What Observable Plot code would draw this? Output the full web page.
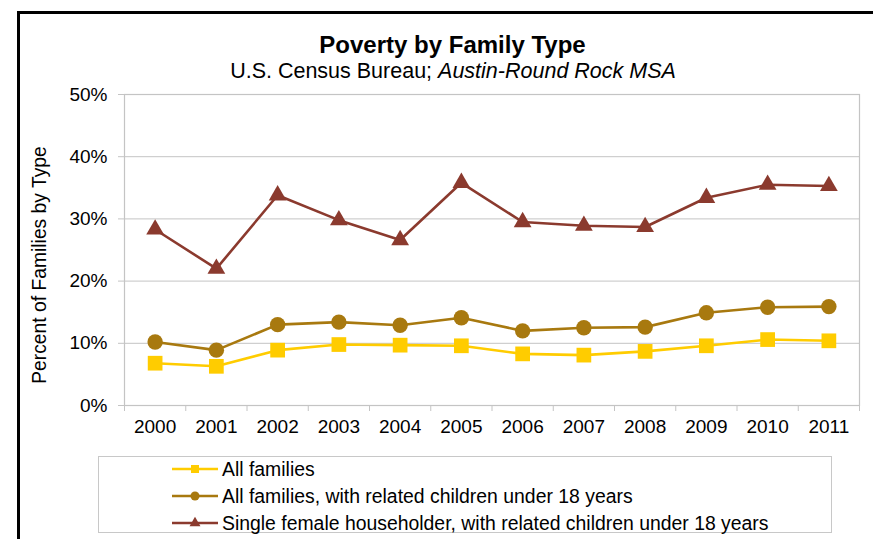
<!DOCTYPE html>
<html>
<head>
<meta charset="utf-8">
<script src="https://cdn.jsdelivr.net/npm/d3@7"></script>
<script src="https://cdn.jsdelivr.net/npm/@observablehq/plot@0.6"></script>
<style>
  html, body { margin: 0; padding: 0; background: #fff; }
  body { font-family: "Liberation Sans", Arial, sans-serif; }
  #wrap { position: relative; width: 873px; height: 539px; overflow: hidden; background: #fff; }
  #frame { position: absolute; left: 17px; top: 11px; width: 900px; height: 600px; border-left: 3px solid #000; border-top: 3px solid #000; }
  #chart { position: absolute; left: 0; top: 0; }
  #title { position: absolute; left: 0; width: 905px; top: 31px; text-align: center; font-weight: bold; font-size: 24px; color: #000; }
  #subtitle { position: absolute; left: 0; width: 906px; top: 59px; text-align: center; font-size: 21.5px; color: #000; }
  #ylabel { position: absolute; left: 40px; top: 265px; transform: translate(-50%, -50%) rotate(-90deg); white-space: nowrap; font-size: 19.3px; color: #000; }
  #legend { position: absolute; left: 98px; top: 456px; width: 734px; height: 77px; border: 1px solid #c8c8c8; box-sizing: border-box; }
  .row { position: absolute; left: 73px; height: 24px; display: flex; align-items: center; font-size: 19.4px; color: #000; white-space: nowrap; }
  .row svg { margin-right: 4px; }
</style>
</head>
<body>
<div id="wrap">
  <div id="chart"></div>
  <div id="frame"></div>
  <div id="title">Poverty by Family Type</div>
  <div id="subtitle">U.S. Census Bureau; <i>Austin-Round Rock MSA</i></div>
  <div id="ylabel">Percent of Families by Type</div>
  <div id="legend"></div>
</div>
<script>
const years = [2000, 2001, 2002, 2003, 2004, 2005, 2006, 2007, 2008, 2009, 2010, 2011];
const allFamilies = [6.8, 6.3, 8.9, 9.8, 9.7, 9.6, 8.3, 8.1, 8.7, 9.6, 10.6, 10.4];
const withChildren = [10.2, 8.9, 13.0, 13.4, 12.9, 14.1, 12.0, 12.5, 12.6, 14.9, 15.8, 15.9];
const singleFemale = [28.3, 22.0, 33.8, 29.8, 26.6, 35.8, 29.5, 28.9, 28.7, 33.4, 35.5, 35.3];
const seriesNames = [
  "All families",
  "All families, with related children under 18 years",
  "Single female householder, with related children under 18 years"
];
const seriesColors = ["#FFCC00", "#A8790F", "#8B3A2E"];
const seriesSymbols = ["square", "circle", "triangle"];
const yTicks = [0, 10, 20, 30, 40, 50];

const seriesValues = [allFamilies, withChildren, singleFemale];
const rows = [];
seriesValues.forEach((vals, s) => vals.forEach((v, i) => rows.push({series: seriesNames[s], year: years[i], value: v / 100})));
const boundaries = [years[0] - 0.5, ...years.map(y => y + 0.5)];
const symbolSize = {square: 8.3, circle: 7.7, triangle: 6.6};

const marks = [
  Plot.gridY(yTicks.map(t => t / 100), {stroke: "#c4c4c4", strokeOpacity: 1, strokeWidth: 1}),
  Plot.frame({stroke: "#c4c4c4", strokeWidth: 1.2}),
  Plot.axisY({ticks: yTicks.map(t => t / 100), tickFormat: d => Math.round(d * 100) + "%", tickSize: 6, tickPadding: 11, fontSize: 19, stroke: "#c4c4c4", label: null, color: "#000"}),
  Plot.axisX({ticks: boundaries, tickFormat: () => "", tickSize: 6, stroke: "#c4c4c4", label: null}),
  Plot.axisX({ticks: years, tickFormat: d => String(d), tickSize: 0, tickPadding: 14, fontSize: 19, label: null})
];
seriesNames.forEach((name, s) => {
  const data = rows.filter(r => r.series === name);
  marks.push(Plot.line(data, {x: "year", y: "value", stroke: seriesColors[s], strokeWidth: 2.6}));
  marks.push(Plot.dot(data, {x: "year", y: "value", fill: seriesColors[s], symbol: () => seriesSymbols[s], r: symbolSize[seriesSymbols[s]], stroke: null}));
});

const chart = Plot.plot({
  width: 873,
  height: 539,
  marginLeft: 124,
  marginRight: 14,
  marginTop: 94,
  marginBottom: 134,
  style: {fontFamily: "Liberation Sans, Arial, sans-serif", fontSize: "19px", background: "transparent", color: "#000"},
  x: {type: "linear", domain: [years[0] - 0.5, years[years.length - 1] + 0.5], axis: null},
  y: {domain: [0, 0.5], axis: null},
  marks
});
document.getElementById("chart").appendChild(chart);

// legend
const legend = document.getElementById("legend");
const symGen = {square: d3.symbolSquare, circle: d3.symbolCircle, triangle: d3.symbolTriangle};
const legSize = {square: 64, circle: 64, triangle: 52};
seriesNames.forEach((name, s) => {
  const row = document.createElement("div");
  row.className = "row";
  row.style.top = (0 + s * 27) + "px";
  const path = d3.symbol(symGen[seriesSymbols[s]], legSize[seriesSymbols[s]])();
  row.innerHTML = `<svg width="46" height="24"><line x1="0" x2="46" y1="12" y2="12" stroke="${seriesColors[s]}" stroke-width="2.6"/><path d="${path}" transform="translate(23,12)" fill="${seriesColors[s]}"/></svg><span>${name}</span>`;
  legend.appendChild(row);
});
</script>
</body>
</html>
